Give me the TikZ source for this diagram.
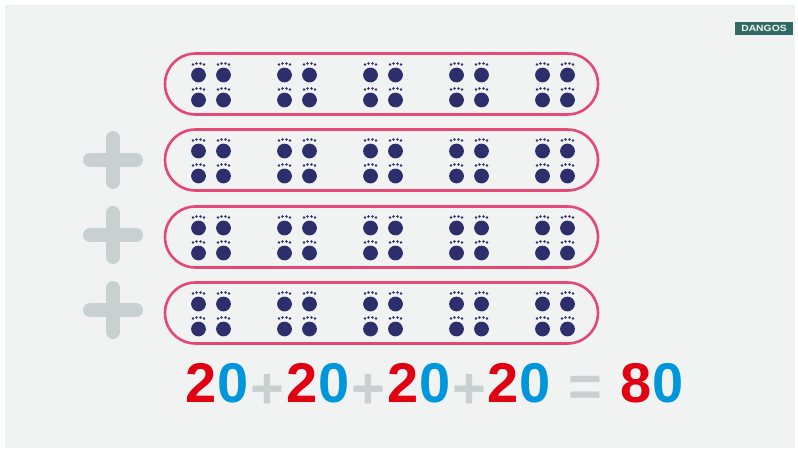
\documentclass[tikz,border=0pt]{standalone}
\usepackage{fontspec}
\setmainfont{Liberation Sans}
\usetikzlibrary{shapes.misc}
\definecolor{bgc}{HTML}{F1F3F2}
\definecolor{pillc}{HTML}{E44874}
\definecolor{navy}{HTML}{2D2E6C}
\definecolor{plusc}{HTML}{C8D1D0}
\definecolor{redc}{HTML}{E00012}
\definecolor{bluec}{HTML}{0096DC}
\definecolor{logoc}{HTML}{2F6A63}
\tikzset{
  pill/.style={rounded rectangle, draw=pillc, line width=2.6pt, fill=bgc,
    minimum width=433pt, minimum height=61pt, inner sep=0pt},
  bigplus/.style={draw=plusc, line width=14pt, line cap=round},
  eqnum/.style={anchor=base, inner sep=0pt, font=\fontsize{56}{56}\selectfont\bfseries},
  eqop/.style={anchor=base, inner sep=0pt, text=plusc, font=\fontsize{58}{58}\selectfont\bfseries},
  logo/.style={fill=logoc, text=bgc, minimum width=58pt, minimum height=13pt, inner sep=0pt,
    font=\fontsize{9}{9}\selectfont\bfseries}
}
\newcommand{\rb}[2]{\textcolor{redc}{#1}\textcolor{bluec}{#2}}
\begin{document}
\begin{tikzpicture}[x=1pt,y=-1pt]
\useasboundingbox (0,0) rectangle (798,450);
\fill[white] (0,0) rectangle (798,450);
\fill[bgc] (5,5) rectangle (795,448);
% logo
\node[logo] (lg) at (764,28.5) {\scalebox{1.15}[1]{DANGOS}};
% pills
\node[pill] (p1) at (381.5,84) {};
\node[pill] (p2) at (381.5,160) {};
\node[pill] (p3) at (381.5,237) {};
\node[pill] (p4) at (381.5,313) {};
% paws
\foreach \cy in {84,160,237,313}{
  \foreach \g in {0,...,4}{
    \foreach \s in {-12.5,12.5}{
      \foreach \dy in {-9,16}{
        \pgfmathsetmacro{\px}{211+86*\g+\s}
        \pgfmathsetmacro{\py}{\cy+\dy}
        \fill[navy] (\px,\py) circle (7.4pt);
        \fill[navy] (\px-5.5,\py-10.5) circle (1.4pt);
        \fill[navy] (\px-2,\py-11.5) circle (1.4pt);
        \fill[navy] (\px+2,\py-11.5) circle (1.4pt);
        \fill[navy] (\px+5.5,\py-10.5) circle (1.4pt);
      }
    }
  }
}
% big plus signs
\foreach \n/\y in {a/160,b/235,c/310}{
  \coordinate (pl\n) at (113,\y);
  \draw[bigplus] ([xshift=-23pt]pl\n) -- ([xshift=23pt]pl\n);
  \draw[bigplus] ([yshift=-22pt]pl\n) -- ([yshift=22pt]pl\n);
}
% equation
\node[eqnum] (e1) at (217,402) {\rb{2}{0}};
\node[eqop] (o1) at (267,408) {+};
\node[eqnum] (e2) at (318,402) {\rb{2}{0}};
\node[eqop] (o2) at (368,408) {+};
\node[eqnum] (e3) at (419,402) {\rb{2}{0}};
\node[eqop] (o3) at (469,408) {+};
\node[eqnum] (e4) at (519,402) {\rb{2}{0}};
\node[eqop] (o4) at (585,406) {=};
\node[eqnum] (e5) at (652,402) {\rb{8}{0}};
\end{tikzpicture}
\end{document}
